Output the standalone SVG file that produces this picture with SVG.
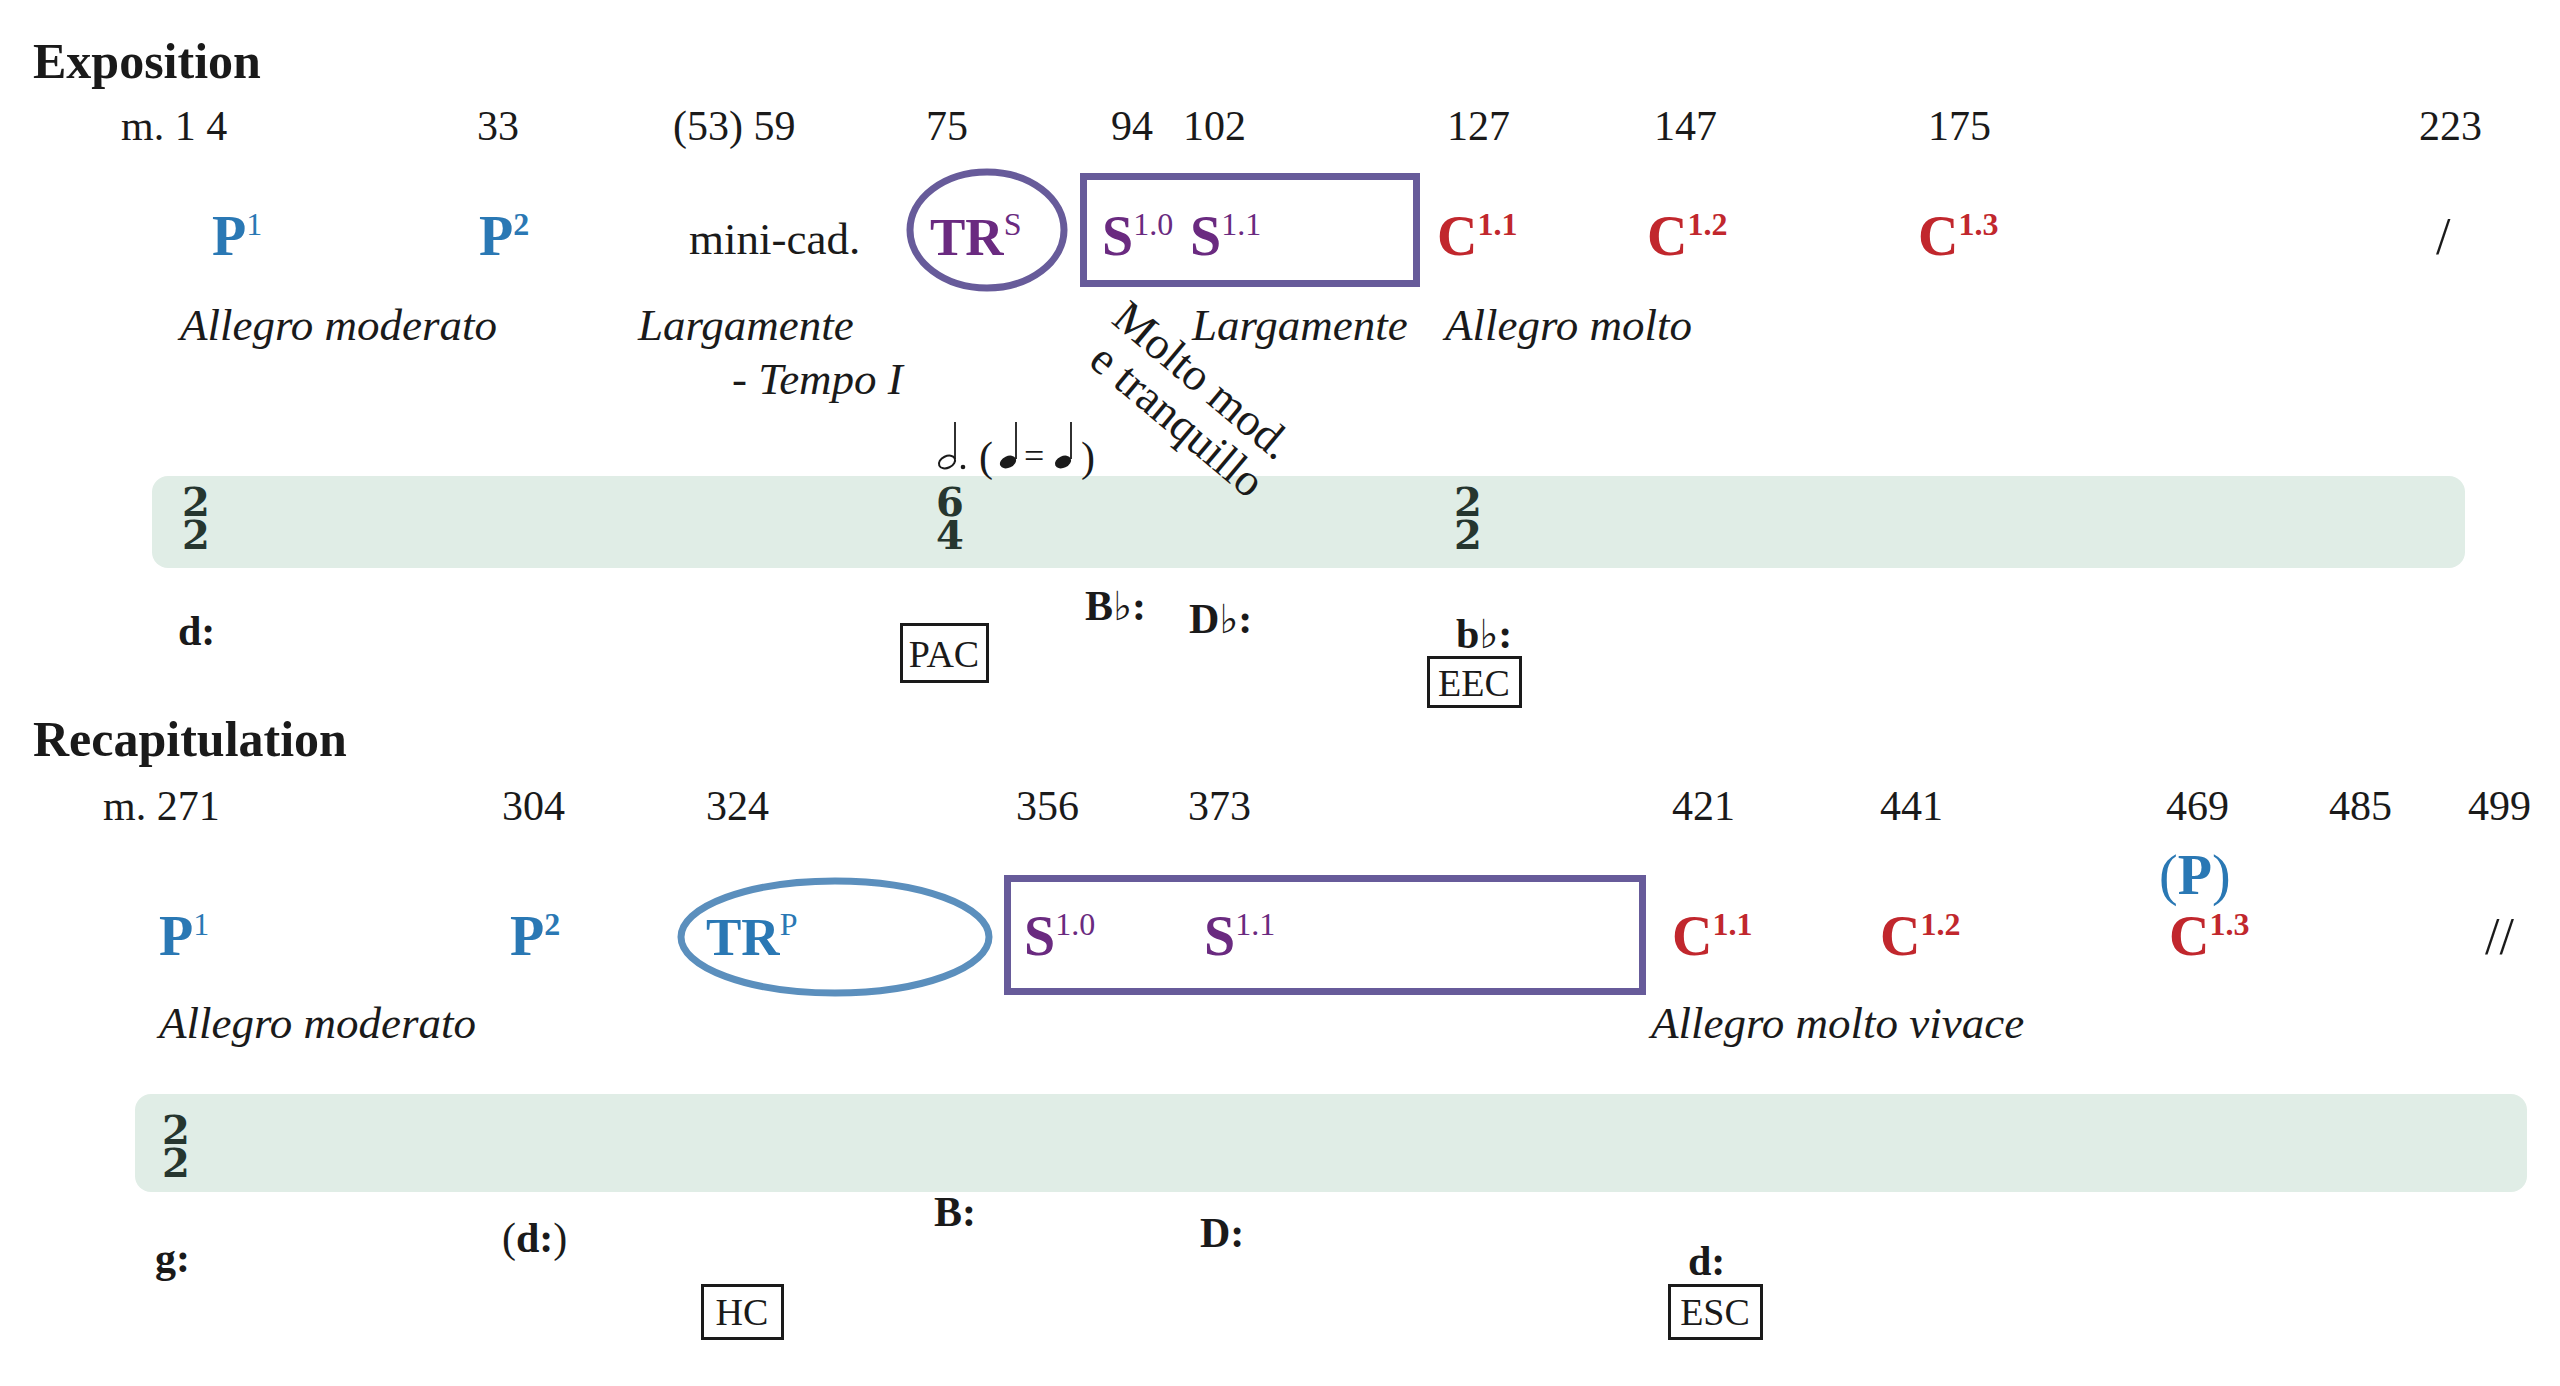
<svg xmlns="http://www.w3.org/2000/svg" width="2560" height="1386" viewBox="0 0 2560 1386">
<style>
text{font-family:"Liberation Serif","Times New Roman",serif;fill:#1a1a1a}
.title{font-weight:bold;font-size:50px}
.num{font-size:42px}
.lab{font-weight:bold;font-size:56px}
.tr{font-size:53px}
.sup{font-size:32px;font-weight:normal}
.supb{font-size:32px;font-weight:bold}
.blue{fill:#2a78b4}
.purple{fill:#6a2a80}
.red{fill:#c1272d}
.it{font-style:italic;font-size:45px}
.rot{font-size:46px}
.reg{font-size:45px}
.slash{font-size:52px}
.key{font-weight:bold;font-size:42px}
.flat{font-family:"DejaVu Serif",serif;font-weight:normal;font-size:40px}
.paren{font-weight:normal}
.ts{font-family:"DejaVu Serif","Liberation Serif",serif;font-weight:bold;font-size:40px;fill:#26362f;text-anchor:middle}
.cad{font-size:38px;text-anchor:middle}
.box{fill:none;stroke:#1a1a1a;stroke-width:3}
.band{fill:#e0ede6}
.frame{fill:none;stroke:#675b9a;stroke-width:7}
.frameb{fill:none;stroke:#5b8fbd;stroke-width:7}
.stem{stroke:#1a1a1a;stroke-width:1.8}
</style>
<rect width="2560" height="1386" fill="#ffffff"/>

<!-- bands drawn first so text can sit over them -->
<g id="exp-band">
<rect class="band" x="152" y="476" width="2313" height="92" rx="16"/>
<text class="ts"><tspan x="196" y="516">2</tspan><tspan x="196" y="549">2</tspan></text>
<text class="ts"><tspan x="950" y="516">6</tspan><tspan x="950" y="549">4</tspan></text>
<text class="ts"><tspan x="1468" y="516">2</tspan><tspan x="1468" y="549">2</tspan></text>
</g>
<g id="recap-band">
<rect class="band" x="135" y="1094" width="2392" height="98" rx="16"/>
<text class="ts"><tspan x="176" y="1144">2</tspan><tspan x="176" y="1177">2</tspan></text>
</g>

<!-- ===== Exposition ===== -->
<g id="exposition-title"><text class="title" x="33" y="78">Exposition</text></g>

<g id="exp-measures">
<text class="num" x="121" y="140">m. 1 4</text>
<text class="num" x="477" y="140">33</text>
<text class="num" x="673" y="140">(53) 59</text>
<text class="num" x="926" y="140">75</text>
<text class="num" x="1111" y="140">94</text>
<text class="num" x="1183" y="140">102</text>
<text class="num" x="1447" y="140">127</text>
<text class="num" x="1654" y="140">147</text>
<text class="num" x="1928" y="140">175</text>
<text class="num" x="2419" y="140">223</text>
</g>

<g id="exp-P1"><text class="lab blue" x="212" y="255">P<tspan class="sup" dy="-20">1</tspan></text></g>
<g id="exp-P2"><text class="lab blue" x="479" y="255">P<tspan class="supb" dy="-20">2</tspan></text></g>
<g id="exp-minicad"><text class="reg" x="689" y="254">mini-cad.</text></g>
<g id="exp-TRS">
<ellipse class="frame" cx="987" cy="230" rx="77" ry="58"/>
<text class="lab tr purple" x="930" y="255">TR<tspan class="sup" dy="-20">S</tspan></text>
</g>
<g id="exp-S">
<rect class="frame" x="1083.5" y="176.5" width="333" height="107"/>
<text class="lab purple" x="1102" y="255">S<tspan class="sup" dy="-20">1.0</tspan></text>
<text class="lab purple" x="1190" y="255">S<tspan class="sup" dy="-20">1.1</tspan></text>
</g>
<g id="exp-C11"><text class="lab red" x="1437" y="255">C<tspan class="supb" dy="-20">1.1</tspan></text></g>
<g id="exp-C12"><text class="lab red" x="1647" y="255">C<tspan class="supb" dy="-20">1.2</tspan></text></g>
<g id="exp-C13"><text class="lab red" x="1918" y="255">C<tspan class="supb" dy="-20">1.3</tspan></text></g>
<g id="exp-end"><text class="slash" x="2436" y="254">/</text></g>

<g id="exp-tempi">
<text class="it" x="180" y="340">Allegro moderato</text>
<text class="it" x="638" y="340">Largamente</text>
<text class="it" x="732" y="394">- Tempo I</text>
<text class="rot" transform="translate(1110,322) rotate(40)">Molto mod.</text>
<text class="rot" transform="translate(1087,364) rotate(40)">e tranquillo</text>
<text class="it" x="1192" y="340">Largamente</text>
<text class="it" x="1445" y="340">Allegro molto</text>
</g>

<g id="exp-metric">
<ellipse cx="947" cy="462" rx="8.5" ry="5.8" transform="rotate(-25 947 462)" fill="none" stroke="#1a1a1a" stroke-width="2"/>
<line class="stem" x1="955" y1="459" x2="955" y2="422"/>
<circle cx="963" cy="467" r="2.3" fill="#1a1a1a"/>
<text x="979" y="471" style="font-size:42px">(</text>
<ellipse cx="1008" cy="462" rx="8.5" ry="5.8" transform="rotate(-25 1008 462)" fill="#1a1a1a"/>
<line class="stem" x1="1016" y1="459" x2="1016" y2="422"/>
<text x="1024" y="468" style="font-size:36px">=</text>
<ellipse cx="1063" cy="462" rx="8.5" ry="5.8" transform="rotate(-25 1063 462)" fill="#1a1a1a"/>
<line class="stem" x1="1071" y1="459" x2="1071" y2="422"/>
<text x="1081" y="471" style="font-size:42px">)</text>
</g>

<g id="exp-keys">
<text class="key" x="178" y="645">d:</text>
<text class="key" x="1085" y="620">B<tspan class="flat">♭</tspan>:</text>
<text class="key" x="1189" y="633">D<tspan class="flat">♭</tspan>:</text>
<text class="key" x="1456" y="648">b<tspan class="flat">♭</tspan>:</text>
</g>
<g id="exp-PAC"><rect class="box" x="901.5" y="624.5" width="86" height="57"/><text class="cad" x="944" y="667">PAC</text></g>
<g id="exp-EEC"><rect class="box" x="1428.5" y="657.5" width="92" height="49"/><text class="cad" x="1474" y="696">EEC</text></g>

<!-- ===== Recapitulation ===== -->
<g id="recap-title"><text class="title" x="33" y="756">Recapitulation</text></g>

<g id="recap-measures">
<text class="num" x="103" y="820">m. 271</text>
<text class="num" x="502" y="820">304</text>
<text class="num" x="706" y="820">324</text>
<text class="num" x="1016" y="820">356</text>
<text class="num" x="1188" y="820">373</text>
<text class="num" x="1672" y="820">421</text>
<text class="num" x="1880" y="820">441</text>
<text class="num" x="2166" y="820">469</text>
<text class="num" x="2329" y="820">485</text>
<text class="num" x="2468" y="820">499</text>
</g>

<g id="recap-P1"><text class="lab blue" x="159" y="955">P<tspan class="sup" dy="-20">1</tspan></text></g>
<g id="recap-P2"><text class="lab blue" x="510" y="955">P<tspan class="supb" dy="-20">2</tspan></text></g>
<g id="recap-TRP">
<ellipse class="frameb" cx="835" cy="937" rx="154" ry="56"/>
<text class="lab tr blue" x="706" y="955">TR<tspan class="sup" dy="-20">P</tspan></text>
</g>
<g id="recap-S">
<rect class="frame" x="1007.5" y="878.5" width="635" height="113"/>
<text class="lab purple" x="1024" y="955">S<tspan class="sup" dy="-20">1.0</tspan></text>
<text class="lab purple" x="1204" y="955">S<tspan class="sup" dy="-20">1.1</tspan></text>
</g>
<g id="recap-C11"><text class="lab red" x="1672" y="955">C<tspan class="supb" dy="-20">1.1</tspan></text></g>
<g id="recap-C12"><text class="lab red" x="1880" y="955">C<tspan class="supb" dy="-20">1.2</tspan></text></g>
<g id="recap-P"><text class="lab blue" x="2159" y="894"><tspan class="paren">(</tspan>P<tspan class="paren">)</tspan></text></g>
<g id="recap-C13"><text class="lab red" x="2169" y="955">C<tspan class="supb" dy="-20">1.3</tspan></text></g>
<g id="recap-end"><text class="slash" x="2485" y="954">//</text></g>

<g id="recap-tempi">
<text class="it" x="159" y="1038">Allegro moderato</text>
<text class="it" x="1651" y="1038">Allegro molto vivace</text>
</g>

<g id="recap-keys">
<text class="key" x="155" y="1272">g:</text>
<text class="key" x="502" y="1252"><tspan class="paren">(</tspan>d:<tspan class="paren">)</tspan></text>
<text class="key" x="934" y="1226">B:</text>
<text class="key" x="1200" y="1247">D:</text>
<text class="key" x="1688" y="1275">d:</text>
</g>
<g id="recap-HC"><rect class="box" x="702.5" y="1285.5" width="80" height="53"/><text class="cad" x="742" y="1325">HC</text></g>
<g id="recap-ESC"><rect class="box" x="1669.5" y="1285.5" width="92" height="53"/><text class="cad" x="1715" y="1325">ESC</text></g>

<g id="connectors"></g>
</svg>
